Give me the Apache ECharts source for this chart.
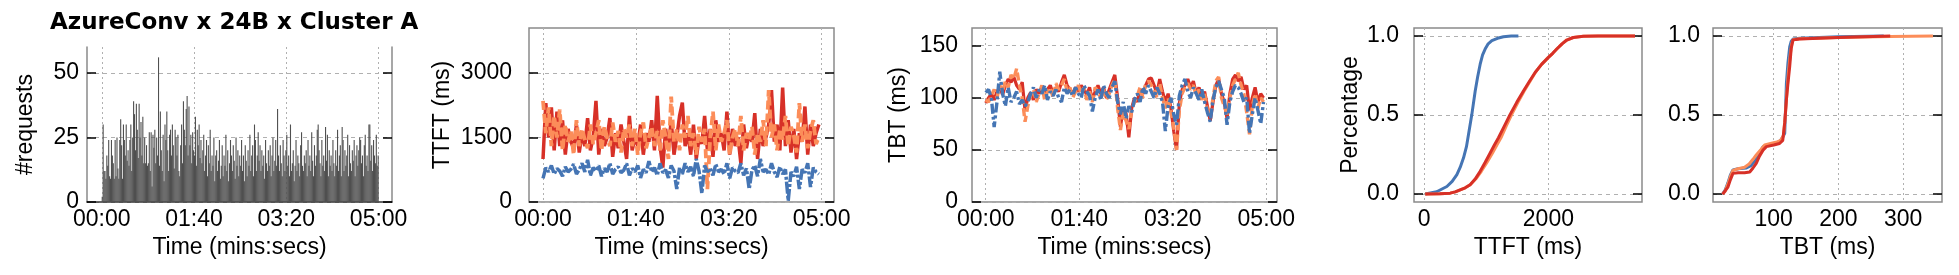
<!DOCTYPE html>
<html><head><meta charset="utf-8">
<script src="https://cdn.jsdelivr.net/npm/echarts@6/dist/echarts.min.js"></script>
<style>html,body{margin:0;padding:0;background:#fff}#c{width:1959px;height:275px}</style>
</head><body><div id="c"></div>
<script>
// ---------- DATA ----------
const titleText = 'AzureConv x 24B x Cluster A';
// requests per second (t = 0..299 s)
const reqCounts = [
 2,30,12,12,9,18,14,24,10,9,
 24,18,15,9,24,10,25,13,9,24,
 32,22,9,30,24,18,30,16,20,14,
 24,30,12,25,39,34,20,38,28,17,
 38,25,31,18,33,15,25,15,22,14,
 15,27,12,27,6,26,21,28,15,25,
 18,56,14,35,20,12,26,8,30,24,
 35,20,12,26,28,18,30,22,13,28,
 25,18,26,12,10,22,30,15,39,28,
 22,36,41,18,37,22,26,15,27,20,
 18,33,14,28,22,30,17,24,15,20,
 26,12,18,24,10,22,15,28,12,18,
 14,25,8,18,20,12,16,24,9,14,
 22,10,18,14,26,12,20,8,15,24,
 18,12,22,16,9,25,14,20,10,18,
 14,24,12,18,8,22,16,10,20,14,
 26,12,18,22,10,30,24,12,18,27,
 16,22,12,20,14,18,9,24,15,12,
 20,14,22,10,18,25,12,16,24,14,
 36,18,12,22,15,10,24,18,12,20,
 26,14,18,10,30,12,15,20,8,14,
 24,12,18,15,10,22,27,14,12,18,
 15,20,10,24,14,18,12,27,16,10,
 22,14,18,28,30,20,15,10,24,14,
 18,12,29,16,26,10,20,14,18,12,
 24,15,10,20,14,28,12,18,22,10,
 29,24,12,20,14,18,26,10,22,15,
 12,20,16,24,10,18,22,14,20,25,
 24,15,18,10,22,26,14,18,12,30,
 30,16,22,12,24,18,15,26,14,18
];
// TTFT over time (ms), sampled every 3 s
const ttftRed = [
 1000,2300,1500,2200,1200,2100,1300,1900,1100,1700,
 1400,1250,1800,1150,1600,1300,1950,1200,1500,2350,
 1100,1700,1300,1500,1950,1050,1600,1250,1800,1400,
 1000,2000,1200,1500,1300,1800,1100,1600,1400,1900,
 1200,2470,1300,800,1700,1250,1900,1100,1500,2000,
 2310,1300,1600,1100,1800,1000,1500,1350,2000,1200,
 1700,1050,1900,1400,1600,1200,2100,1100,1700,1300,
 1500,900,1800,1250,1600,1400,2065,1000,1700,1300,
 1500,1800,2600,1400,1800,1200,2660,1300,1900,1150,
 1700,1000,1600,1400,2220,1100,1800,1300,1600,1800
];
const ttftOrange = [
 2350,1600,2200,1300,2000,1500,2150,1200,1800,1400,
 1650,1100,1900,1300,1700,1450,1250,1800,1350,1600,
 1900,1200,1750,1500,1300,1850,1400,1650,1150,1700,
 1500,1800,1300,1700,1100,1600,1850,1250,1500,1750,
 1300,1650,1200,1900,1500,1000,2450,1400,1700,1200,
 1800,1500,2000,1300,1600,1100,1750,1400,1700,300,
 1500,2100,1200,1800,1400,1600,1900,1100,1500,1700,
 1300,2000,1200,1600,1450,1750,1100,1600,1400,1900,
 1300,2600,1500,1800,1200,1700,1450,2000,1300,1750,
 1550,1150,2300,1400,1800,1250,1650,1900,1350,1500
];
const ttftBlue = [
 550,800,700,850,650,780,720,600,820,700,
 760,880,650,750,900,700,980,620,800,720,
 850,600,780,700,900,650,760,820,680,740,
 900,620,780,700,850,560,760,680,950,700,
 800,620,900,680,750,560,850,720,300,800,
 650,900,700,820,600,1000,720,200,850,700,
 780,620,880,700,760,650,900,550,800,720,
 680,900,620,780,300,750,850,600,1000,700,
 760,640,900,700,580,820,650,760,30,700,
 600,820,300,760,680,900,350,800,700,650
];
// TBT over time (ms), sampled every 3 s
const tbtRed = [
 95,100,104,98,106,110,103,112,118,115,
 120,112,108,115,88,100,105,98,108,104,
 110,102,108,112,104,110,106,115,122,112,
 108,104,110,106,112,108,103,110,98,106,
 112,104,110,100,108,115,122,100,72,90,
 85,62,90,100,96,108,104,112,118,119,
 112,104,118,106,96,104,90,68,50,95,
 108,112,118,110,116,104,110,100,106,92,
 78,96,112,118,104,96,80,104,118,122,
 116,120,108,112,88,100,110,96,104,100
];
const tbtOrange = [
 98,96,102,108,100,112,106,116,110,122,
 118,128,112,100,77,92,102,108,96,104,
 112,98,106,110,100,114,108,112,118,106,
 110,100,106,112,104,110,98,106,96,110,
 106,100,108,98,104,112,118,90,69,86,
 78,70,88,96,102,110,100,114,116,112,
 108,100,114,100,90,100,86,72,50,88,
 104,110,114,108,112,102,108,98,104,88,
 82,100,116,120,100,92,84,100,112,118,
 124,112,104,86,65,92,104,90,100,96
];
const tbtBlue = [
 105,108,100,72,96,125,104,92,110,96,
 100,106,94,98,92,96,104,110,100,108,
 104,112,98,106,102,108,100,96,110,104,
 108,102,110,104,100,112,106,102,87,100,
 108,98,112,104,100,110,116,96,84,96,
 80,92,86,98,104,96,110,104,112,106,
 100,110,104,96,68,92,100,84,74,102,
 112,118,106,100,110,104,98,108,96,86,
 77,98,110,116,108,100,74,96,106,112,
 110,104,96,100,66,84,100,88,75,96
];
const sampleStep = 3; // seconds between samples
// TTFT CDF
const ttftCdfBlueX = [16,200,365,450,526,580,633,680,713,767,821,860,901,940,981,1030,1089,1180,1276,1400,1517];
const ttftCdfBlueP = [0,0.015,0.048,0.08,0.123,0.17,0.229,0.3,0.377,0.504,0.652,0.74,0.821,0.88,0.917,0.95,0.97,0.985,0.995,0.999,1.0];
const ttftCdfRedX = [16,250,418,500,579,660,740,820,901,980,1062,1130,1196,1290,1384,1490,1598,1690,1786,1890,2000,2070,2135,2220,2296,2400,2563,2800,3100,3395];
const ttftCdfRedP = [0,0.002,0.006,0.014,0.027,0.04,0.059,0.095,0.144,0.2,0.26,0.31,0.356,0.43,0.504,0.58,0.652,0.71,0.769,0.82,0.864,0.89,0.917,0.95,0.974,0.99,0.998,0.999,1.0,1.0];
const ttftCdfOrangeX = [16,250,418,500,579,660,740,830,920,1010,1100,1170,1236,1320,1410,1510,1610,1700,1790,1890,2000,2070,2135,2220,2296,2400,2563,2800,3100,3395];
const ttftCdfOrangeP = [0,0.002,0.006,0.014,0.027,0.04,0.059,0.095,0.144,0.2,0.26,0.31,0.356,0.43,0.504,0.58,0.652,0.71,0.769,0.82,0.864,0.89,0.917,0.95,0.974,0.99,0.998,0.999,1.0,1.0];
// TBT CDF
const tbtCdfBlueX = [21,25,29,33,37,45,57.8,65,73,78,83.5,95,109,114,117,119.6,122,124.7,127,129.8,140,200,270];
const tbtCdfBlueP = [0,0.025,0.068,0.12,0.152,0.16,0.165,0.18,0.22,0.26,0.3,0.315,0.33,0.36,0.384,0.7,0.83,0.93,0.965,0.98,0.985,0.995,1.0];
const tbtCdfRedX = [21,25,29.4,33,37,45,55,63,68,73,78,83.5,88.7,100,109,114,117,119.6,122,124.7,127,129.8,135,140,200,280];
const tbtCdfRedP = [0,0.02,0.046,0.09,0.131,0.135,0.135,0.14,0.165,0.194,0.24,0.278,0.3,0.31,0.32,0.34,0.45,0.595,0.7,0.806,0.92,0.975,0.978,0.98,0.99,1.0];
const tbtCdfOrangeX = [21,25,29,33,37,45,55,62,68,73,80,86,95,105,111,115,118,120.5,123,125.5,128,130.5,140,200,280,346];
const tbtCdfOrangeP = [0,0.02,0.06,0.11,0.15,0.16,0.17,0.19,0.22,0.247,0.28,0.31,0.32,0.33,0.34,0.37,0.5,0.65,0.78,0.88,0.95,0.978,0.982,0.99,0.997,1.0];
// ticks
const timeTicks = [0,100,200,300];
const reqTicks = [0,25,50];
const ttftTicks = [0,1500,3000];
const tbtTicks = [0,50,100,150];
const pctTicks = [0,0.5,1];
const ttftCdfTicks = [0,2000];
const tbtCdfTicks = [100,200,300];

// ---------- STYLE ----------
const FONT = '"Liberation Sans", Arial, Helvetica, sans-serif';
const FS = 23;
const RED = '#d73027', ORANGE = '#fc8d59', BLUE = '#4575b4';
const GRIDC = '#b0b0b0', FRAMEC = '#8a8a8a';

const fmtTime = v => { const m = Math.floor(v/60), s = Math.round(v%60); return String(m).padStart(2,'0')+':'+String(s).padStart(2,'0'); };
const zip = (xs, ys) => xs.map((x,i)=>[x, ys[i]]);
const timed = ys => ys.map((y,i)=>[i*sampleStep, y]);

const grids = [
  {left:87, top:47, width:305, height:155, show:false},
  {left:529, top:28, width:305, height:174, show:true, borderColor:FRAMEC, borderWidth:1.5},
  {left:972, top:28, width:305, height:174, show:true, borderColor:FRAMEC, borderWidth:1.5},
  {left:1414, top:28, width:228, height:174, show:true, borderColor:FRAMEC, borderWidth:1.5},
  {left:1713, top:28, width:229, height:174, show:true, borderColor:FRAMEC, borderWidth:1.5}
];

function xAx(g, min, max, ticks, fmt, name, axisLineShow) {
  return {
    type:'value', gridIndex:g, min, max, position:'bottom',
    name, nameLocation:'middle', nameGap:29,
    nameTextStyle:{fontFamily:FONT, fontSize:FS, color:'#000'},
    axisLine:{show:axisLineShow, onZero:false, lineStyle:{color:'#333', width:1.5}},
    axisTick:{show:false, customValues:ticks},
    axisLabel:{customValues:ticks, formatter:fmt, fontFamily:FONT, fontSize:FS, color:'#000', margin:6},
    splitLine:{show:true, lineStyle:{color:GRIDC, type:[2,3], width:1}}
  };
}
function yAx(g, min, max, ticks, fmt, name, nameGap, margin, axisLineShow) {
  return {
    type:'value', gridIndex:g, min, max, position:'left',
    name, nameLocation:'middle', nameGap, nameRotate:90,
    nameTextStyle:{fontFamily:FONT, fontSize:FS, color:'#000'},
    axisLine:{show:axisLineShow, onZero:false, lineStyle:{color:FRAMEC, width:1.5}},
    axisTick:{show:true, inside:true, length:9, customValues:ticks, lineStyle:{color:'#000', width:1.5}},
    axisLabel:{customValues:ticks, formatter:fmt, fontFamily:FONT, fontSize:FS, color:'#000', margin},
    splitLine:{show:true, lineStyle:{color:GRIDC, type:[4,4], width:1}}
  };
}
function yMirror(g, min, max, ticks, axisLineShow) {
  return {
    type:'value', gridIndex:g, min, max, position:'right',
    axisLine:{show:axisLineShow, onZero:false, lineStyle:{color:FRAMEC, width:1.5}},
    axisTick:{show:true, inside:true, length:9, customValues:ticks, lineStyle:{color:'#000', width:1.5}},
    axisLabel:{show:false}, splitLine:{show:false}
  };
}
const fmtInt = v => String(v);
const fmt1 = v => v.toFixed(1);

const xAxes = [
  xAx(0, -16, 314.5, timeTicks, fmtTime, 'Time (mins:secs)', true),
  xAx(1, -15.1, 313.3, timeTicks, fmtTime, 'Time (mins:secs)', false),
  xAx(2, -14.7, 311.4, timeTicks, fmtTime, 'Time (mins:secs)', false),
  xAx(3, -165, 3508, ttftCdfTicks, fmtInt, 'TTFT (ms)', false),
  xAx(4, 6.2, 360, tbtCdfTicks, fmtInt, 'TBT (ms)', false)
];
const yAxes = [
  yAx(0, 0, 60, reqTicks, fmtInt, '#requests', 50, 8, true),
  yAx(1, 0, 4045, ttftTicks, fmtInt, 'TTFT (ms)', 75, 17, false),
  yAx(2, 0, 167, tbtTicks, fmtInt, 'TBT (ms)', 62, 14, false),
  yAx(3, -0.05, 1.05, pctTicks, fmt1, 'Percentage', 52, 15, false),
  yAx(4, -0.05, 1.05, pctTicks, fmt1, '', 0, 13, false),
  yMirror(0, 0, 60, reqTicks, true),
  yMirror(1, 0, 4045, ttftTicks, false),
  yMirror(2, 0, 167, tbtTicks, false),
  yMirror(3, -0.05, 1.05, pctTicks, false),
  yMirror(4, -0.05, 1.05, pctTicks, false)
];

function line(xi, yi, data, color, type, width) {
  return {type:'line', xAxisIndex:xi, yAxisIndex:yi, data, showSymbol:false, symbol:'none',
    lineStyle:{color, width:width||3, type:type||'solid'}, itemStyle:{color}, animation:false, z:3};
}

const series = [
  {type:'bar', xAxisIndex:0, yAxisIndex:0, data:reqCounts.map((v,i)=>[i+0.5, v]),
   barWidth:1.1, itemStyle:{color:'#505050'}, animation:false, large:false},
  line(1,1,timed(ttftRed), RED, 'solid', 3.5),
  line(1,1,timed(ttftOrange), ORANGE, [9,4], 3.8),
  line(1,1,timed(ttftBlue), BLUE, [12,2,3,2], 3.5),
  line(2,2,timed(tbtRed), RED, 'solid', 3.2),
  line(2,2,timed(tbtOrange), ORANGE, [8,4], 3.4),
  line(2,2,timed(tbtBlue), BLUE, [10,3,3,3], 3.4),
  line(3,3,zip(ttftCdfBlueX, ttftCdfBlueP), BLUE, 'solid', 3),
  line(3,3,zip(ttftCdfOrangeX, ttftCdfOrangeP), ORANGE, 'solid', 3),
  line(3,3,zip(ttftCdfRedX, ttftCdfRedP), RED, 'solid', 3),
  line(4,4,zip(tbtCdfBlueX, tbtCdfBlueP), BLUE, 'solid', 3),
  line(4,4,zip(tbtCdfOrangeX, tbtCdfOrangeP), ORANGE, 'solid', 3),
  line(4,4,zip(tbtCdfRedX, tbtCdfRedP), RED, 'solid', 3)
];

const chart = echarts.init(document.getElementById('c'), null, {renderer:'canvas'});
chart.setOption({
  backgroundColor:'#fff',
  animation:false,
  title:{text:titleText, left:50, top:12, padding:0, textStyle:{fontFamily:'"DejaVu Sans", Verdana, sans-serif', fontWeight:'bold', fontSize:23, color:'#000'}},
  grid:grids, xAxis:xAxes, yAxis:yAxes, series
});
</script></body></html>
